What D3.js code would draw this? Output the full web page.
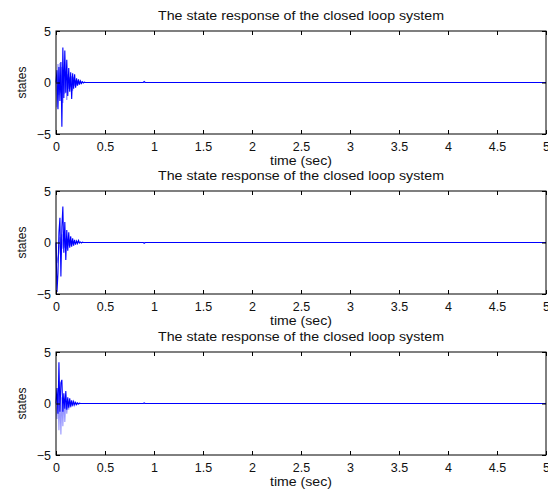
<!DOCTYPE html>
<html><head><meta charset="utf-8">
<script src="https://cdn.jsdelivr.net/npm/d3@7"></script>
<style>
body{margin:0;background:#fff;}
svg{display:block;font-family:"Liberation Sans",Arial,sans-serif;}
</style></head>
<body><svg id="c" width="548" height="489"></svg>
<script>
// time samples for the transient, then settled to the end
const times = [0,0.01,0.02,0.03,0.04,0.05,0.06,0.07,0.08,0.09,0.10,0.11,0.12,0.13,0.14,0.15,0.16,0.17,0.18,0.19,0.20,0.21,0.22,0.23,0.24,0.25,0.26,0.27,0.28,0.29,0.30,0.89,0.90,0.91,5];

const p1a = [0,1.2,-2.6,1.5,-1.8,2.0,-4.3,3.4,-1.5,3.1,-1.0,2.2,-1.3,1.4,-0.9,1.0,-1.6,0.9,-0.6,0.8,-0.5,0.4,-0.3,0.3,-0.2,0.15,-0.1,0.08,-0.05,0.03,0,0,0.1,0,0];
const p1b = [0,-2.4,1.8,-1.2,1.9,-1.0,1.5,-2.0,1.2,-1.1,0.9,-1.7,0.8,-0.6,0.5,-0.4,0.6,-0.8,0.5,-0.3,0.2,-0.2,0.1,-0.1,0.05,-0.05,0.03,0,0,0,0,0,0,0,0];

const p2a = [0,-4.8,-3.0,1.0,2.4,-3.3,1.5,3.5,-1.0,2.0,-1.7,1.2,-0.8,1.0,-0.5,0.6,-0.4,0.4,-0.3,0.25,-0.2,0.15,-0.1,0.2,-0.05,0.05,-0.05,0.03,0,0,0,0,-0.08,0,0];
const p2b = [0,-2.0,-1.5,-1.0,0.5,-1.2,0.8,-0.6,0.9,-0.5,0.4,-0.6,0.3,-0.3,0.2,-0.2,0.1,-0.1,0.1,0,0,0,0,0,0,0,0,0,0,0,0,0,0,0,0];

const p3a = [0,1.5,-1.0,4.0,-0.8,2.0,2.3,-0.8,1.0,-0.5,1.2,-0.6,0.6,-0.4,0.5,-0.3,0.3,-0.2,0.2,-0.1,0.1,-0.1,0.05,-0.05,0.03,0,0,0,0,0,0,0,0.05,0,0];
const p3b = [0,-1.5,0.8,-2.6,0.5,-3.0,0.6,-2.2,0.4,-1.8,0.3,-1.0,0.2,-0.6,0.3,-0.4,0.2,-0.3,0.1,-0.2,0.1,-0.1,0.05,-0.05,0,0,0,0,0,0,0,0,0,0,0];

const xTicks = [0,0.5,1,1.5,2,2.5,3,3.5,4,4.5,5];
const yTicks = [-5,0,5];
const titleText = "The state response of the closed loop system";
const xLabel = "time (sec)";
const yLabel = "states";

const panels = [
  {top:31, series:[{v:p1b,c:"#6a6aff",o:0.8},{v:p1a,c:"#0000ff",o:1}]},
  {top:191, series:[{v:p2b,c:"#6a6aff",o:0.8},{v:p2a,c:"#0000ff",o:1}]},
  {top:352, series:[{v:p3b,c:"#8080ff",o:0.8},{v:p3a,c:"#0000ff",o:1}]}
];

const svg = d3.select("#c");
const L = 56, R = 546, H = 103;
const x = d3.scaleLinear().domain([0,5]).range([L,R]);

panels.forEach(p => {
  const y = d3.scaleLinear().domain([-5,5]).range([p.top+H, p.top]);
  const g = svg.append("g");
  const line = d3.line().x((d,i)=>x(times[i])).y(d=>y(d));
  p.series.forEach(s => {
    g.append("path").datum(s.v).attr("d", line)
      .attr("fill","none").attr("stroke",s.c).attr("stroke-width",1.1).attr("stroke-opacity",s.o);
  });
  const tk = 4;
  const axB = d3.axisBottom(x).tickValues(xTicks).tickSizeInner(-tk).tickSizeOuter(0).tickPadding(8)
    .tickFormat(d3.format(""));
  const gb = g.append("g").attr("transform",`translate(0,${p.top+H})`).call(axB);
  const axT = d3.axisTop(x).tickValues(xTicks).tickSizeInner(-tk).tickSizeOuter(0).tickFormat("");
  const gt = g.append("g").attr("transform",`translate(0,${p.top})`).call(axT);
  const axL = d3.axisLeft(y).tickValues(yTicks).tickSizeInner(-tk).tickSizeOuter(0).tickPadding(5)
    .tickFormat(d => d < 0 ? "\u2212" + Math.abs(d) : d);
  const gl = g.append("g").attr("transform",`translate(${L},0)`).call(axL);
  const axR = d3.axisRight(y).tickValues(yTicks).tickSizeInner(-tk).tickSizeOuter(0).tickFormat("");
  const gr = g.append("g").attr("transform",`translate(${R},0)`).call(axR);
  [gb,gt,gl,gr].forEach(a => {
    a.select(".domain").remove();
    a.selectAll("line").attr("stroke","#000");
    a.selectAll("text").attr("font-size",12.5).attr("fill","#111").attr("font-family","Liberation Sans, Arial, sans-serif");
  });
  g.append("rect").attr("x",L).attr("y",p.top).attr("width",R-L).attr("height",H)
    .attr("fill","none").attr("stroke","#000").attr("stroke-width",1);
  g.append("text").attr("x",301).attr("y",p.top-11).attr("text-anchor","middle")
    .attr("font-size",12.5).attr("fill","#111")
    .attr("textLength",286).attr("lengthAdjust","spacingAndGlyphs").text(titleText);
  g.append("text").attr("x",(L+R)/2).attr("y",p.top+H+31).attr("text-anchor","middle")
    .attr("font-size",12.5).attr("fill","#111")
    .attr("textLength",62).attr("lengthAdjust","spacingAndGlyphs").text(xLabel);
  g.append("text").attr("transform",`translate(26,${p.top+H/2}) rotate(-90)`).attr("text-anchor","middle")
    .attr("font-size",12.5).attr("fill","#111")
    .attr("textLength",32).attr("lengthAdjust","spacingAndGlyphs").text(yLabel);
});
</script></body></html>
